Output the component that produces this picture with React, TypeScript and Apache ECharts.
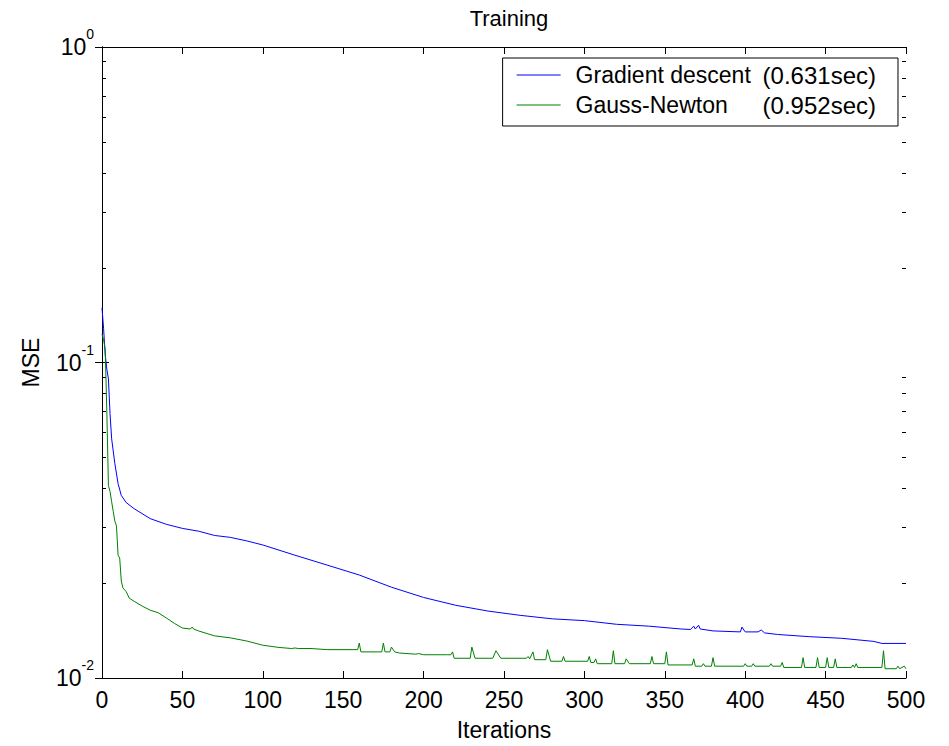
import React, { useEffect, useRef } from "react";
import * as echarts from "echarts";

const gdIters = [0, 1, 2, 3, 4, 5, 6, 8, 10, 12, 15, 20, 30, 40, 50, 60, 70, 80, 90, 100, 120, 140, 160, 180, 200, 220, 240, 260, 280, 300, 320, 340, 360, 366, 368, 369, 371, 372, 380, 397, 398, 400, 408, 410, 412, 420, 440, 460, 480, 485, 500];
const gdMse = [0.149, 0.128, 0.106, 0.0953, 0.0887, 0.0688, 0.0573, 0.0478, 0.0413, 0.0379, 0.036, 0.0344, 0.032, 0.0307, 0.0298, 0.0292, 0.0283, 0.0279, 0.0272, 0.0264, 0.0245, 0.0228, 0.0212, 0.0194, 0.018, 0.017, 0.0163, 0.0158, 0.0154, 0.0152, 0.0148, 0.0146, 0.0143, 0.01425, 0.0146, 0.0143, 0.0147, 0.0143, 0.0141, 0.014, 0.0145, 0.014, 0.014, 0.0142, 0.0139, 0.01374, 0.01352, 0.01336, 0.01306, 0.01287, 0.01287];

const gnIters = [0, 1, 2, 3, 4, 5, 6, 7, 8, 9, 10, 11, 12, 13, 15, 17, 20, 25, 30, 35, 40, 45, 50, 55, 56, 57, 60, 70, 80, 90, 100, 110, 118, 120, 122, 130, 140, 159, 160, 161, 174, 175, 176, 179, 180, 182, 185, 195, 197, 200, 215, 217, 218, 219, 229, 230, 232, 243, 245, 248, 264, 265, 266, 268, 269, 276, 277, 279, 286, 287, 288, 302, 303, 304, 306, 307, 308, 317, 318, 319, 325, 326, 328, 341, 342, 343, 350, 351, 352, 367, 368, 369, 373, 374, 375, 379, 380, 381, 399, 400, 401, 404, 405, 406, 415, 416, 417, 422, 423, 424, 435, 436, 437, 444, 445, 446, 450, 451, 452, 455, 456, 457, 466, 467, 468, 469, 470, 485, 486, 487, 494, 495, 496, 499, 500];
const gnMse = [0.123, 0.118, 0.11, 0.07, 0.0407, 0.039, 0.0362, 0.0337, 0.0314, 0.0303, 0.0245, 0.024, 0.0203, 0.0193, 0.0188, 0.0179, 0.0175, 0.0169, 0.0164, 0.0161, 0.0155, 0.0149, 0.0144, 0.0143, 0.0145, 0.0143, 0.0141, 0.0136, 0.0134, 0.0131, 0.0127, 0.0125, 0.0124, 0.01245, 0.0124, 0.0124, 0.0123, 0.0123, 0.0129, 0.0121, 0.0121, 0.0129, 0.0121, 0.0121, 0.01253, 0.0121, 0.012, 0.0119, 0.01195, 0.01185, 0.01185, 0.01185, 0.0121, 0.01155, 0.01155, 0.01253, 0.01155, 0.01155, 0.0122, 0.01155, 0.01155, 0.0117, 0.0115, 0.0121, 0.01143, 0.01143, 0.0123, 0.0113, 0.0113, 0.0117, 0.0113, 0.0113, 0.0117, 0.0112, 0.0112, 0.0115, 0.0111, 0.0111, 0.0122, 0.0111, 0.0111, 0.0115, 0.0111, 0.0111, 0.0117, 0.0111, 0.0111, 0.0121, 0.011, 0.011, 0.0115, 0.0109, 0.0109, 0.0111, 0.0109, 0.0109, 0.0116, 0.0109, 0.0109, 0.0111, 0.0109, 0.0109, 0.0111, 0.0109, 0.0109, 0.0111, 0.0109, 0.0109, 0.0112, 0.0108, 0.0108, 0.0116, 0.0108, 0.0108, 0.0116, 0.0108, 0.0108, 0.0116, 0.0108, 0.0108, 0.0115, 0.0108, 0.0108, 0.011, 0.0108, 0.0111, 0.0108, 0.0108, 0.0122, 0.0107, 0.0107, 0.0109, 0.0107, 0.0109, 0.0107];

const seriesNames = ["Gradient descent", "Gauss-Newton"];
const seriesTimes = ["(0.631sec)", "(0.952sec)"];
const minorTicks = [0.02, 0.03, 0.04, 0.05, 0.06, 0.07, 0.08, 0.09, 0.2, 0.3, 0.4, 0.5, 0.6, 0.7, 0.8, 0.9];

const FONT = "Liberation Sans, Arial, sans-serif";
const FS = 23;

export default function App() {
  const ref = useRef<HTMLDivElement>(null);
  useEffect(() => {
    if (!ref.current) return;
    const chart = echarts.init(ref.current, null, { renderer: "svg" });
    const zip = (xs: number[], ys: number[]) => xs.map((x, i) => [x, ys[i]]);
    const yLabel = {
      fontFamily: FONT,
      color: "#000",
      margin: 8,
      formatter: (v: number) => `{b|10}{s|${Math.round(Math.log10(v))}}`,
      rich: {
        b: { fontSize: FS, fontFamily: FONT, color: "#000", lineHeight: FS },
        s: { fontSize: 14, fontFamily: FONT, color: "#000", lineHeight: 14, padding: [0, 0, 26, 0] },
      },
    };
    const axisLine = { show: true, lineStyle: { color: "#000", width: 1 } };
    const tick = { show: true, inside: true, length: 7, lineStyle: { color: "#000" } };
    chart.setOption({
      animation: false,
      backgroundColor: "#fff",
      textStyle: { fontFamily: FONT },
      title: {
        text: "Training",
        left: 504,
        textAlign: "center",
        top: 2,
        textStyle: { fontFamily: FONT, fontSize: 22, fontWeight: "normal", color: "#000" },
      },
      grid: { left: 102, top: 47, right: 43, bottom: 66 },
      legend: {
        data: seriesNames,
        orient: "vertical",
        right: 51,
        top: 58,
        padding: [5, 22, 9, 14],
        itemGap: 6,
        itemWidth: 44,
        itemHeight: 1,
        icon: "rect",
        backgroundColor: "#fff",
        borderColor: "#000",
        borderWidth: 1,
        borderRadius: 0,
        formatter: (name: string) => {
          const i = seriesNames.indexOf(name);
          return `{n|${name}}{t|${seriesTimes[i]}}`;
        },
        textStyle: {
          fontFamily: FONT,
          fontSize: 24,
          color: "#000",
          rich: {
            n: { fontFamily: FONT, fontSize: 23, color: "#000", width: 187, padding: [0, 0, 0, 10] },
            t: { fontFamily: FONT, fontSize: 24, color: "#000" },
          },
        },
      },
      xAxis: [
        {
          type: "value",
          min: 0,
          max: 500,
          interval: 50,
          position: "bottom",
          name: "Iterations",
          nameLocation: "middle",
          nameGap: 40,
          nameTextStyle: { fontFamily: FONT, fontSize: FS, color: "#000" },
          axisLine,
          axisTick: tick,
          axisLabel: { fontFamily: FONT, fontSize: FS, color: "#000", margin: 10 },
          splitLine: { show: false },
        },
        {
          type: "value",
          min: 0,
          max: 500,
          interval: 50,
          position: "top",
          axisLine,
          axisTick: tick,
          axisLabel: { show: false },
          splitLine: { show: false },
        },
      ],
      yAxis: [
        {
          type: "log",
          logBase: 10,
          min: 0.01,
          max: 1,
          position: "left",
          name: "MSE",
          nameLocation: "middle",
          nameGap: 60,
          nameRotate: 90,
          nameTextStyle: { fontFamily: FONT, fontSize: FS, color: "#000" },
          axisLine,
          axisTick: tick,
          axisLabel: yLabel,
          splitLine: { show: false },
        },
        {
          type: "log",
          logBase: 10,
          min: 0.01,
          max: 1,
          position: "right",
          axisLine,
          axisTick: tick,
          axisLabel: { show: false },
          splitLine: { show: false },
        },
      ],
      series: [
        {
          name: seriesNames[0],
          type: "line",
          data: zip(gdIters, gdMse),
          symbol: "none",
          lineStyle: { color: "#0000ff", width: 1 },
          itemStyle: { color: "#0000ff" },
          clip: true,
        },
        {
          name: seriesNames[1],
          type: "line",
          data: zip(gnIters, gnMse),
          symbol: "none",
          lineStyle: { color: "#008000", width: 1 },
          itemStyle: { color: "#008000" },
          clip: true,
        },
        {
          type: "custom",
          silent: true,
          data: minorTicks.map((v) => [0, v]),
          renderItem: (params: any, api: any) => {
            const p = api.coord([0, api.value(1)]);
            const cs = params.coordSys;
            const y = Math.round(p[1]) + 0.5;
            const st = { stroke: "#000", lineWidth: 1 };
            return {
              type: "group",
              children: [
                { type: "line", shape: { x1: cs.x, y1: y, x2: cs.x + 4, y2: y }, style: st },
                { type: "line", shape: { x1: cs.x + cs.width - 4, y1: y, x2: cs.x + cs.width, y2: y }, style: st },
              ],
            };
          },
        },
      ],
    });
    return () => chart.dispose();
  }, []);
  return <div ref={ref} style={{ position: "fixed", left: 0, top: 0, width: 949, height: 746 }} />;
}
